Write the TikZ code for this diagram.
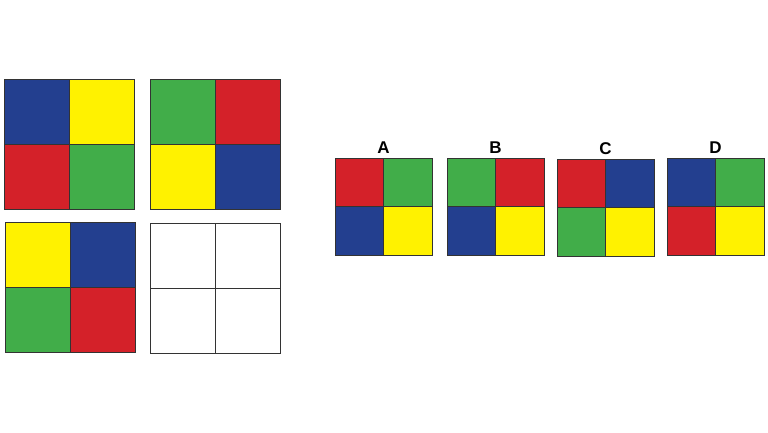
\documentclass[tikz,border=0pt]{standalone}
\usepackage{fontspec}
\setmainfont{Liberation Sans}
\usetikzlibrary{positioning}
\definecolor{azul}{HTML}{233F8F}
\definecolor{amarillo}{HTML}{FFF200}
\definecolor{rojo}{HTML}{D42129}
\definecolor{verde}{HTML}{41AD49}
\definecolor{borde}{HTML}{333333}

% cuadro de 2x2: nombre, x, y (esquina sup. izq.), lado, cuatro colores
\newcommand{\cuadro}[8]{%
  \node[celda, minimum size=#4, fill=#5, anchor=north west] (#1-1) at (#2,#3) {};
  \node[celda, minimum size=#4, fill=#6, right=0pt of #1-1] (#1-2) {};
  \node[celda, minimum size=#4, fill=#7, below=0pt of #1-1] (#1-3) {};
  \node[celda, minimum size=#4, fill=#8, right=0pt of #1-3] (#1-4) {};
}

\begin{document}
\begin{tikzpicture}[x=1pt, y=-1pt,
      celda/.style={draw=borde, line width=0.8pt, inner sep=0pt, outer sep=0pt},
      letra/.style={font=\fontsize{17}{20}\selectfont\bfseries, inner sep=0pt}]
    \useasboundingbox (0,0) rectangle (768,432);
    % matriz
    \cuadro{p1}{4}{79}{65pt}{azul}{amarillo}{rojo}{verde}
    \cuadro{p2}{150}{79}{65pt}{verde}{rojo}{amarillo}{azul}
    \cuadro{p3}{5}{222}{65pt}{amarillo}{azul}{verde}{rojo}
    \cuadro{p4}{150}{223}{65pt}{white}{white}{white}{white}
    % opciones
    \cuadro{A}{335}{158}{48.5pt}{rojo}{verde}{azul}{amarillo}
    \cuadro{B}{447}{158}{48.5pt}{verde}{rojo}{azul}{amarillo}
    \cuadro{C}{557}{159}{48.5pt}{rojo}{azul}{verde}{amarillo}
    \cuadro{D}{667}{158}{48.5pt}{azul}{verde}{rojo}{amarillo}
    \node[letra, above=4pt of A-1.north east] (la) {A};
    \node[letra, above=4pt of B-1.north east] (lb) {B};
    \node[letra, above=4pt of C-1.north east] (lc) {C};
    \node[letra, above=4pt of D-1.north east] (ld) {D};
  \end{tikzpicture}
\end{document}
